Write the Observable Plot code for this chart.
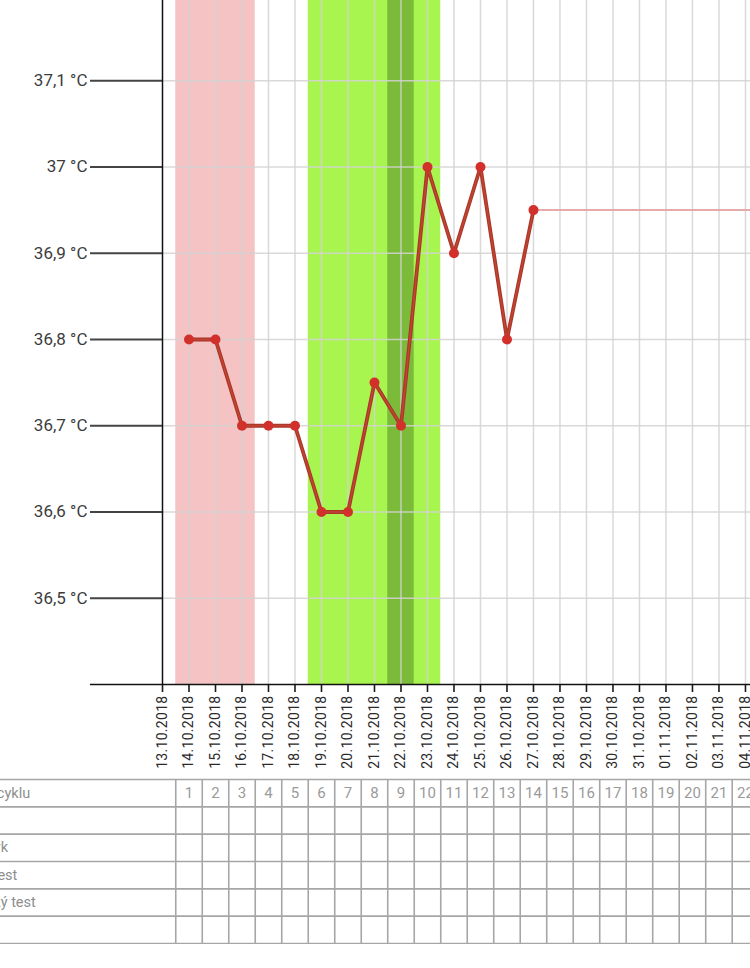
<!DOCTYPE html>
<html>
<head>
<meta charset="utf-8">
<script src="https://cdn.jsdelivr.net/npm/d3@7"></script>
<script src="https://cdn.jsdelivr.net/npm/@observablehq/plot@0.6"></script>
<style>
  body { margin: 0; background: #fff; overflow: hidden; }
  #chart svg, #table svg { display: block; }
  #chart [aria-label^="x-axis"] text { font-size: 14px; fill: #2a2a2a; letter-spacing: 0.3px; }
  #chart [aria-label^="x-axis"] line, #chart [aria-label^="x-axis"] path { stroke: #1a1a1a; stroke-width: 1.6px; }
  #chart [aria-label^="y-axis"] text { font-size: 17px; fill: #3c3c3c; }
  #chart [aria-label^="y-axis"] line, #chart [aria-label^="y-axis"] path { stroke: #444; stroke-width: 2px; }
</style>
</head>
<body>
<div id="chart"></div>
<div id="table"></div>
<script>
// ---- data ----
const dateLabels = [
  "13.10.2018","14.10.2018","15.10.2018","16.10.2018","17.10.2018","18.10.2018",
  "19.10.2018","20.10.2018","21.10.2018","22.10.2018","23.10.2018","24.10.2018",
  "25.10.2018","26.10.2018","27.10.2018","28.10.2018","29.10.2018","30.10.2018",
  "31.10.2018","01.11.2018","02.11.2018","03.11.2018","04.11.2018"
];
const tempDates = [
  "14.10.2018","15.10.2018","16.10.2018","17.10.2018","18.10.2018","19.10.2018",
  "20.10.2018","21.10.2018","22.10.2018","23.10.2018","24.10.2018","25.10.2018",
  "26.10.2018","27.10.2018"
];
const temps = [36.8, 36.8, 36.7, 36.7, 36.7, 36.6, 36.6, 36.75, 36.7, 37.0, 36.9, 37.0, 36.8, 36.95];
const yTicks = [36.5, 36.6, 36.7, 36.8, 36.9, 37.0, 37.1];
const yDomain = [36.4, 37.193];
const xDomainMax = 22.19;          // visible part of the time axis (in days from 13.10.2018)
const periodRange = ["14.10.2018", "16.10.2018"];
const fertileRange = ["19.10.2018", "23.10.2018"];
const ovulationRange = ["22.10.2018", "22.10.2018"];
const cycleDays = d3.range(1, 23);
const rowLabels = ["Číslo dne cyklu", "Hlen", "Intimní styk", "Ovulační test", "Těhotenský test", "Nálada"];

// ---- derived tables ----
const idx = d => dateLabels.indexOf(d);
const points = tempDates.map((d, i) => ({x: idx(d), y: temps[i]}));
const bands = [
  {a: idx(periodRange[0]), b: idx(periodRange[1]), fill: "#f5c3c3"},
  {a: idx(fertileRange[0]), b: idx(fertileRange[1]), fill: "#a9f54f"},
  {a: idx(ovulationRange[0]), b: idx(ovulationRange[1]), fill: "#7cbb3a"}
];
const last = points[points.length - 1];
const fmtT = v => String(Math.round(v * 10) / 10).replace(".", ",") + " °C";

const chart = Plot.plot({
  width: 750,
  height: 778,
  marginTop: 0,
  marginBottom: 94,
  marginLeft: 162,
  marginRight: 0,
  style: {fontFamily: "Roboto, 'Liberation Sans', sans-serif", background: "#fff", color: "#2e2e2e"},
  x: {
    type: "linear",
    domain: [0, xDomainMax],
    ticks: dateLabels.map((d, i) => i),
    tickFormat: i => dateLabels[i],
    tickRotate: -90,
    tickSize: 8,
    tickPadding: 3,
    label: null
  },
  y: {
    domain: yDomain,
    ticks: yTicks,
    tickFormat: fmtT,
    tickSize: 72,
    tickPadding: 3,
    label: null
  },
  marks: [
    Plot.rect(bands, {x1: d => d.a - 0.5, x2: d => d.b + 0.5, fill: d => d.fill}),
    Plot.ruleX(dateLabels.map((d, i) => i).filter(i => i > 0), {stroke: "#d2d2d2", strokeOpacity: 0.85, strokeWidth: 1.5}),
    Plot.ruleY(yTicks, {stroke: "#d2d2d2", strokeOpacity: 0.85, strokeWidth: 1.5}),
    Plot.ruleY([last], {y: "y", x1: d => d.x, x2: () => xDomainMax, stroke: "#e6a3a3", strokeWidth: 2, strokeOpacity: 0.85}),
    Plot.ruleY([last], {y: "y", x1: d => d.x, x2: () => xDomainMax, stroke: "#d98888", strokeWidth: 1, strokeDasharray: "1.5,1.5", strokeOpacity: 0.6}),
    Plot.line(points, {x: "x", y: "y", stroke: "#a9372b", strokeWidth: 3.8}),
    Plot.line(points, {x: "x", y: "y", stroke: "#c4452f", strokeWidth: 1.4}),
    Plot.dot(points, {x: "x", y: "y", r: 5, fill: "#d2302b"}),
    Plot.ruleX([0], {stroke: "#111", strokeWidth: 1.5}),
    Plot.ruleY([yDomain[0]], {stroke: "#111", strokeWidth: 1.5, insetLeft: -72})
  ]
});
document.getElementById("chart").appendChild(chart);

// ---- table below the chart ----
const rows = d3.range(rowLabels.length + 1);
const table = Plot.plot({
  width: 750,
  height: 166,
  marginTop: 1,
  marginBottom: 1,
  marginLeft: 162,
  marginRight: 0,
  style: {fontFamily: "Roboto, 'Liberation Sans', sans-serif", background: "#fff"},
  x: {type: "linear", domain: [0, xDomainMax], axis: null},
  y: {domain: [0, rowLabels.length], reverse: true, axis: null},
  marks: [
    Plot.ruleY(rows, {stroke: "#a6a6a6", strokeWidth: 1.6, insetLeft: -162}),
    Plot.ruleX(cycleDays, {x: d => d - 0.5, y1: 0, y2: rowLabels.length, stroke: "#a6a6a6", strokeWidth: 1.6}),
    Plot.text(cycleDays, {x: d => d, y: 0.5, text: d => String(d), fill: "#9a9a9a", fontSize: 15}),
    Plot.text(rowLabels, {y: (d, i) => i + 0.5, text: d => d, frameAnchor: "left", textAnchor: "start", dx: -229, fill: "#8e8e8e", fontSize: 14.5})
  ]
});
document.getElementById("table").appendChild(table);
</script>
</body>
</html>
